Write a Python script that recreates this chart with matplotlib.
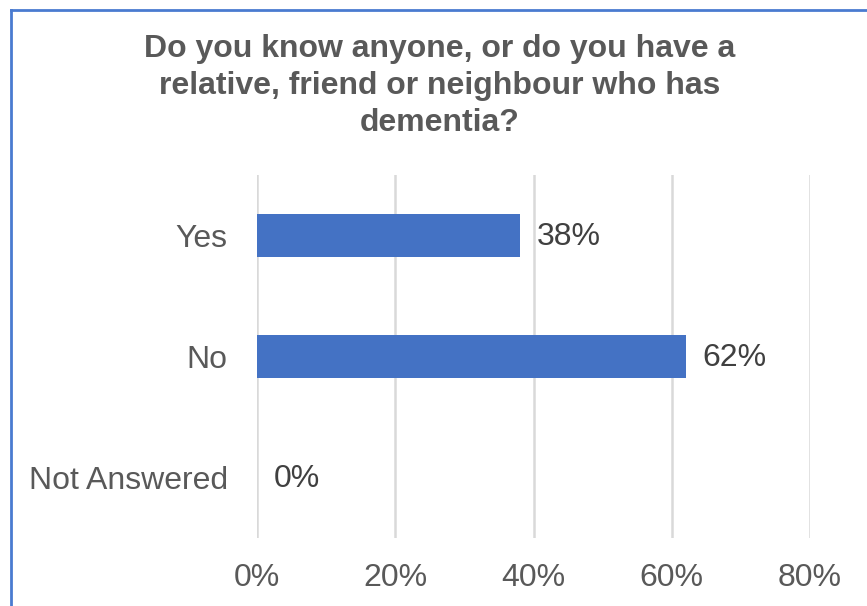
import matplotlib.pyplot as plt
from matplotlib.lines import Line2D
from matplotlib.ticker import FuncFormatter

categories = ["Yes", "No", "Not Answered"]
shares = [38, 62, 0]
x_ticks = [0, 20, 40, 60, 80]

TITLE = "Do you know anyone, or do you have a\nrelative, friend or neighbour who has\ndementia?"
BAR_BLUE = "#4472C4"
GRID_GREY = "#D9D9D9"
TEXT_GREY = "#595959"
LABEL_GREY = "#404040"

plt.rcParams["font.family"] = ["Liberation Sans", "DejaVu Sans"]

W, H = 867, 606
fig = plt.figure(figsize=(W / 100, H / 100), dpi=100, facecolor="white")
ax = fig.add_axes([257 / W, 1 - 538 / H, (810 - 257) / W, (538 - 175) / H])

y = range(len(categories))
ax.barh(y, shares, height=0.35, color=BAR_BLUE, zorder=3)

for yi, v in zip(y, shares):
    ax.annotate(f"{v}%", (v, yi), xytext=(12, -1), textcoords="offset points",
                ha="left", va="center", fontsize=23, color=LABEL_GREY)

ax.set_xlim(0, 80)
ax.set_ylim(2.5, -0.5)
ax.set_xticks(x_ticks)
ax.xaxis.set_major_formatter(FuncFormatter(lambda v, _: f"{v:.0f}%"))
ax.set_yticks(list(y))
ax.set_yticklabels(categories)
ax.tick_params(axis="both", length=0, labelsize=23, labelcolor=TEXT_GREY)
ax.tick_params(axis="y", pad=21)
ax.tick_params(axis="x", pad=18)
ax.grid(axis="x", color=GRID_GREY, linewidth=1.8, zorder=0)
for s in ax.spines.values():
    s.set_visible(False)

fig.text(440 / W, 1 - 86 / H, TITLE, ha="center", va="center", fontsize=23,
         fontweight="bold", color=TEXT_GREY, linespacing=1.3)

# chart frame (top and left edges)
border = "#4A7BD0"
fig.add_artist(Line2D([11 / W, 11 / W], [0, 1 - 10 / H], transform=fig.transFigure,
                      color=border, linewidth=2))
fig.add_artist(Line2D([11 / W, 1], [1 - 10 / H, 1 - 10 / H], transform=fig.transFigure,
                      color=border, linewidth=2))

fig.savefig("out.png", dpi=100, facecolor="white")
